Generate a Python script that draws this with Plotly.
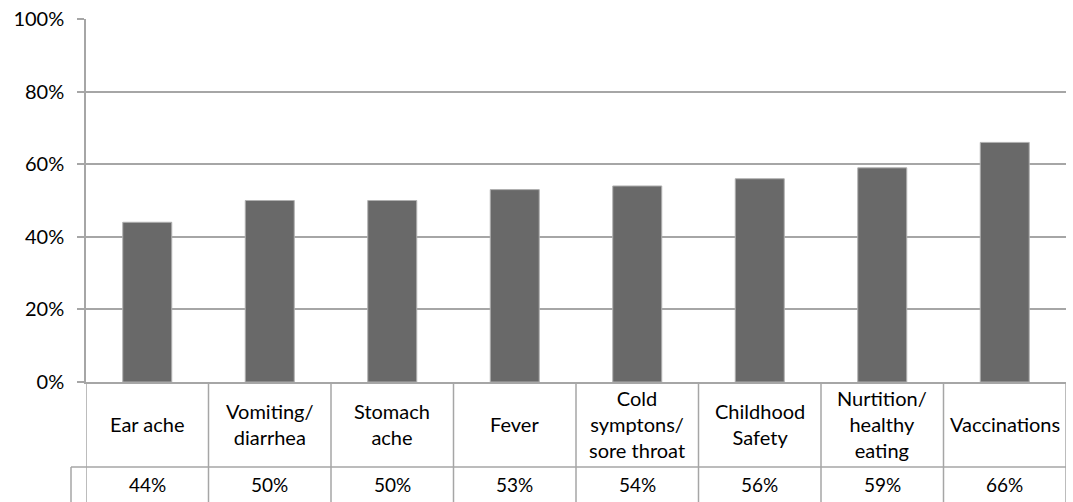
import plotly.graph_objects as go

categories = ["Ear ache", "Vomiting/<br>diarrhea", "Stomach<br>ache", "Fever",
              "Cold<br>symptons/<br>sore throat", "Childhood<br>Safety",
              "Nurtition/<br>healthy<br>eating", "Vaccinations"]
values = [0.44, 0.50, 0.50, 0.53, 0.54, 0.56, 0.59, 0.66]
value_labels = ["44%", "50%", "50%", "53%", "54%", "56%", "59%", "66%"]

W, H = 1073, 502
ML, MR, MT, MB = 86, 7, 19, 120
plot_w = W - ML - MR
plot_h = H - MT - MB

def py(pix):
    return (H - MB - pix) / plot_h

def px(pix):
    return (pix - ML) / plot_w

GRID = "#a6a6a6"
FONT = "Lato, 'Liberation Sans', sans-serif"

n = len(categories)
xs = list(range(n))

fig = go.Figure()
fig.add_trace(go.Bar(
    x=xs, y=values, width=0.4,
    marker=dict(color="#696969", line=dict(color="#b0b0b0", width=1)),
    hoverinfo="skip",
))

shapes = []
row_y = py(467)
bottom_y = py(505)
shapes.append(dict(type="line", xref="paper", yref="paper",
                   x0=px(71), x1=1, y0=row_y, y1=row_y,
                   line=dict(color=GRID, width=1.5)))
for i in range(n + 1):
    shapes.append(dict(type="line", xref="x", yref="paper",
                       x0=i - 0.5, x1=i - 0.5, y0=0, y1=bottom_y,
                       line=dict(color=GRID, width=1.5)))
shapes.append(dict(type="line", xref="paper", yref="paper",
                   x0=px(71), x1=px(71), y0=row_y, y1=bottom_y,
                   line=dict(color=GRID, width=1.5)))

annotations = []
for i, c in enumerate(categories):
    annotations.append(dict(x=i, y=py(424), xref="x", yref="paper",
                            text=c, showarrow=False,
                            font=dict(family=FONT, size=20, color="#000000"),
                            xanchor="center", yanchor="middle"))
    annotations.append(dict(x=i, y=py(485), xref="x", yref="paper",
                            text=value_labels[i], showarrow=False,
                            font=dict(family=FONT, size=19, color="#000000"),
                            xanchor="center", yanchor="middle"))

fig.update_layout(
    width=W, height=H,
    margin=dict(l=ML, r=MR, t=MT, b=MB, pad=0),
    paper_bgcolor="white", plot_bgcolor="white",
    showlegend=False,
    shapes=shapes,
    annotations=annotations,
    bargap=0.6,
)
fig.update_xaxes(range=[-0.5, n - 0.5], showticklabels=False, showgrid=False,
                 zeroline=False, showline=True, linecolor=GRID, linewidth=1.5,
                 ticks="", fixedrange=True)
fig.update_yaxes(range=[0, 1], dtick=0.2, tickformat=".0%",
                 showgrid=True, gridcolor=GRID, gridwidth=1.5,
                 zeroline=False, showline=True, linecolor=GRID, linewidth=1.5,
                 ticks="outside", ticklen=7, tickcolor=GRID, tickwidth=1.5,
                 ticklabelstandoff=9,
                 tickfont=dict(family=FONT, size=20, color="#000000"),
                 fixedrange=True)

fig.write_html("out.html", config={"displayModeBar": False},
               post_script="document.body.style.margin='0';document.body.style.overflow='hidden';")
